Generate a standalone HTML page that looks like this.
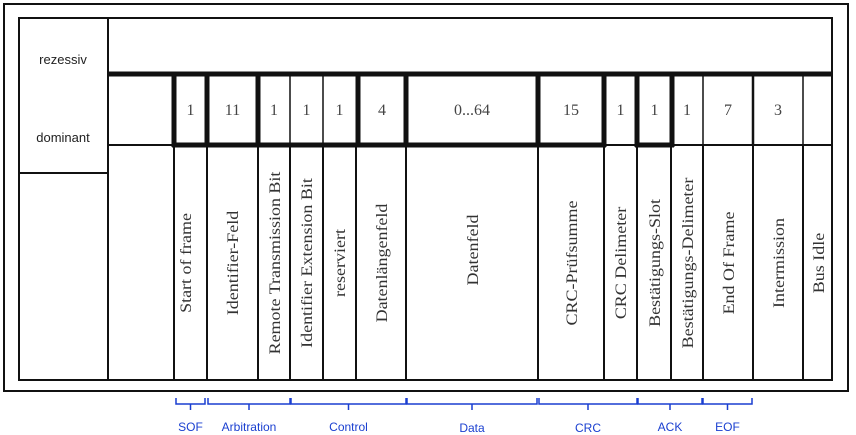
<!DOCTYPE html>
<html><head><meta charset="utf-8"><style>
html,body{margin:0;padding:0;background:#fff;width:856px;height:435px;overflow:hidden}
</style></head><body>
<svg width="856" height="435" viewBox="0 0 856 435" xmlns="http://www.w3.org/2000/svg">
<g fill="none" stroke="#111">
<rect x="4" y="4" width="844" height="387" stroke-width="2"/>
<rect x="19" y="18" width="813" height="362" stroke-width="2"/>
<line x1="108" y1="18" x2="108" y2="380" stroke-width="2"/>
<line x1="19" y1="173" x2="108" y2="173" stroke-width="2"/>
<line x1="108" y1="74" x2="832" y2="74" stroke-width="5"/>
<line x1="108" y1="145" x2="174" y2="145" stroke-width="2"/>
<line x1="172" y1="145" x2="606" y2="145" stroke-width="5"/>
<line x1="604" y1="145" x2="637" y2="145" stroke-width="2"/>
<line x1="635" y1="145" x2="674" y2="145" stroke-width="5"/>
<line x1="672" y1="145" x2="832" y2="145" stroke-width="2"/>
<g stroke-width="5">
<line x1="174" y1="74" x2="174" y2="147"/>
<line x1="207" y1="74" x2="207" y2="147"/>
<line x1="258" y1="74" x2="258" y2="147"/>
<line x1="358" y1="74" x2="358" y2="147"/>
<line x1="406" y1="74" x2="406" y2="147"/>
<line x1="538" y1="74" x2="538" y2="147"/>
<line x1="604" y1="74" x2="604" y2="147"/>
<line x1="637" y1="74" x2="637" y2="147"/>
<line x1="672" y1="74" x2="672" y2="147"/>
</g>
<g stroke-width="1.5">
<line x1="290" y1="74" x2="290" y2="145"/>
<line x1="323" y1="74" x2="323" y2="145"/>
<line x1="703" y1="74" x2="703" y2="145"/>
<line x1="803" y1="74" x2="803" y2="145"/>
</g>
<line x1="753" y1="74" x2="753" y2="145" stroke-width="2.5"/>
<g stroke-width="2">
<line x1="174" y1="145" x2="174" y2="380"/>
<line x1="207" y1="145" x2="207" y2="380"/>
<line x1="258" y1="145" x2="258" y2="380"/>
<line x1="290" y1="145" x2="290" y2="380"/>
<line x1="323" y1="145" x2="323" y2="380"/>
<line x1="356" y1="145" x2="356" y2="380"/>
<line x1="406" y1="145" x2="406" y2="380"/>
<line x1="538" y1="145" x2="538" y2="380"/>
<line x1="604" y1="145" x2="604" y2="380"/>
<line x1="637" y1="145" x2="637" y2="380"/>
<line x1="671" y1="145" x2="671" y2="380"/>
<line x1="703" y1="145" x2="703" y2="380"/>
<line x1="753" y1="145" x2="753" y2="380"/>
<line x1="803" y1="145" x2="803" y2="380"/>
</g>
</g>
<g font-family="Liberation Sans, sans-serif" font-size="13" fill="#222" text-anchor="middle">
<text x="63" y="64">rezessiv</text>
<text x="63" y="142">dominant</text>
</g>
<g font-family="Liberation Serif, serif" font-size="16" fill="#444" text-anchor="middle">
<text x="190.5" y="115">1</text>
<text x="232.5" y="115">11</text>
<text x="274" y="115">1</text>
<text x="306.5" y="115">1</text>
<text x="339.5" y="115">1</text>
<text x="382" y="115">4</text>
<text x="472" y="115">0...64</text>
<text x="571" y="115">15</text>
<text x="620.5" y="115">1</text>
<text x="654.5" y="115">1</text>
<text x="687" y="115">1</text>
<text x="728" y="115">7</text>
<text x="778" y="115">3</text>
</g>
<g font-family="Liberation Serif, serif" font-size="18" fill="#333" text-anchor="middle">
<text transform="translate(191,263) rotate(-90) scale(1,0.85)">Start of frame</text>
<text transform="translate(238,263) rotate(-90) scale(1,0.85)">Identifier-Feld</text>
<text transform="translate(280,263) rotate(-90) scale(1,0.85)">Remote Transmission Bit</text>
<text transform="translate(312,263) rotate(-90) scale(1,0.85)">Identifier Extension Bit</text>
<text transform="translate(345,263) rotate(-90) scale(1,0.85)">reserviert</text>
<text transform="translate(387,263) rotate(-90) scale(1,0.85)">Datenlängenfeld</text>
<text transform="translate(478,250) rotate(-90) scale(1,0.85)">Datenfeld</text>
<text transform="translate(577,263) rotate(-90) scale(1,0.85)">CRC-Prüfsumme</text>
<text transform="translate(626,263) rotate(-90) scale(1,0.85)">CRC Delimeter</text>
<text transform="translate(660,263) rotate(-90) scale(1,0.85)">Bestätigungs-Slot</text>
<text transform="translate(693,263) rotate(-90) scale(1,0.85)">Bestätigungs-Delimeter</text>
<text transform="translate(734,263) rotate(-90) scale(1,0.85)">End Of Frame</text>
<text transform="translate(784,263) rotate(-90) scale(1,0.85)">Intermission</text>
<text transform="translate(824,263) rotate(-90) scale(1,0.85)">Bus Idle</text>
</g>
<g fill="none" stroke="#1a3fd0" stroke-width="1.5">
<path d="M176 398 v6 h29 v-6 M190.5 404 v6"/>
<path d="M208 398 v6 h82 v-6 M249 404 v6"/>
<path d="M291 398 v6 h115 v-6 M348.5 404 v6"/>
<path d="M407 398 v6 h130 v-6 M472 404 v6"/>
<path d="M539 398 v6 h98 v-6 M588 404 v6"/>
<path d="M638 398 v6 h64 v-6 M670 404 v6"/>
<path d="M703 398 v6 h49 v-6 M727.5 404 v6"/>
</g>
<g font-family="Liberation Sans, sans-serif" font-size="12" fill="#1a3fd0" text-anchor="middle">
<text x="190.5" y="431">SOF</text>
<text x="249" y="431">Arbitration</text>
<text x="348.5" y="431">Control</text>
<text x="472" y="432">Data</text>
<text x="588" y="432">CRC</text>
<text x="670" y="431">ACK</text>
<text x="727.5" y="431">EOF</text>
</g>
</svg>
</body></html>
